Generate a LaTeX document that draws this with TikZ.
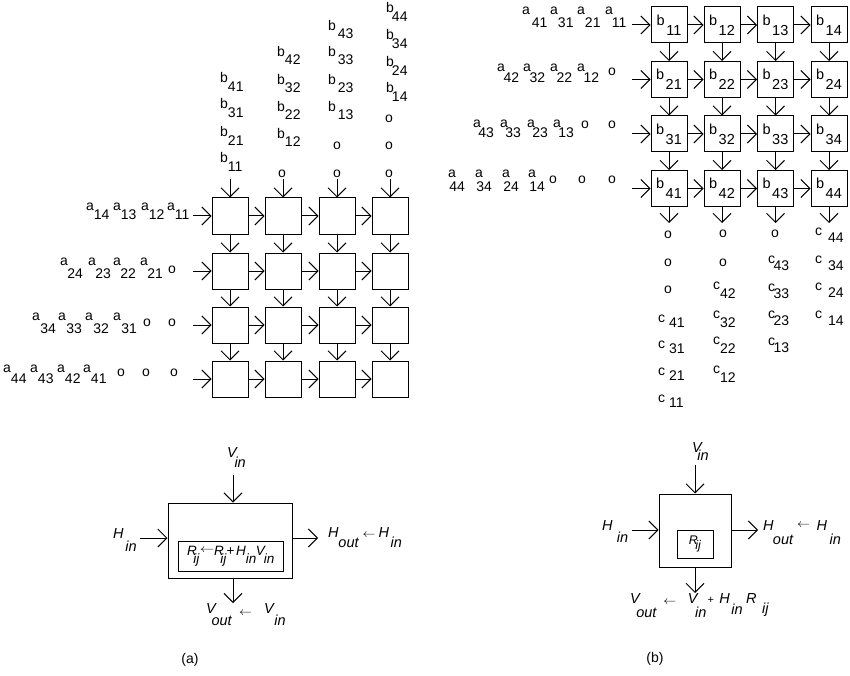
\documentclass[tikz,border=0pt]{standalone}
\usepackage{fontspec}
\setmainfont{Liberation Sans}
\usetikzlibrary{arrows.meta}
\newcommand\RS[4]{\raisebox{#3pt}{#1}\hspace{#4pt}#2}
\newcommand\IS[4]{\textit{#1}\hspace{#3pt}\raisebox{-#4pt}{\textit{#2}}}
\newcommand\LA[1]{\raisebox{#1pt}{\scalebox{0.9}[0.8]{$\leftarrow$}}}
\tikzset{
  lbl/.style={anchor=base west, inner sep=0pt, outer sep=0pt, font=\fontsize{14}{16}\selectfont},
  ilbl/.style={anchor=base west, inner sep=0pt, outer sep=0pt, font=\fontsize{14.5}{16}\selectfont},
  cell/.style={draw, line width=1pt, minimum size=36pt, inner sep=0pt, font=\fontsize{14.5}{16}\selectfont},
  pe/.style={draw, line width=1pt, inner sep=0pt},
  dot/.style={inner sep=0pt, font=\fontsize{14}{16}\selectfont},
  arr/.style={line width=1pt, -{Straight Barb[length=9pt,width=18pt]}},
  captxt/.style={inner sep=0pt, font=\fontsize{14}{16}\selectfont},
}
\begin{document}
\begin{tikzpicture}[x=1pt,y=-1pt]
\useasboundingbox (0,0) rectangle (850,676);
% ---------------- left array (a)
\foreach \c/\x in {1/230,2/283,3/337,4/390}{
  \foreach \r/\y in {1/216,2/271,3/325,4/379}{
    \node[cell] (A\r\c) at (\x,\y) {};
  }
  \coordinate (At\c) at (\x,179);
  \draw[arr] (At\c) -- (A1\c.north);
}
\foreach \r/\y in {1/216,2/271,3/325,4/379}{
  \coordinate (Ai\r) at (193,\y);
  \draw[arr] (Ai\r) -- (A\r1.west);
  \draw[arr] (A\r1.east) -- (A\r2.west);
  \draw[arr] (A\r2.east) -- (A\r3.west);
  \draw[arr] (A\r3.east) -- (A\r4.west);
}
\foreach \c in {1,2,3,4}{
  \draw[arr] (A1\c.south) -- (A2\c.north);
  \draw[arr] (A2\c.south) -- (A3\c.north);
  \draw[arr] (A3\c.south) -- (A4\c.north);
}
% a inputs (a)
\foreach \x/\s in {86/14,113/13,141/12,167/11}
  \node[lbl] (la\s) at (\x,219) {\RS{a}{\s}{9}{0}};
\foreach \x/\s in {60/24,88/23,113/22,140/21}
  \node[lbl] (la\s) at (\x,278) {\RS{a}{\s}{13}{-0.5}};
\foreach \x/\s in {32/34,58/33,85/32,113/31}
  \node[lbl] (la\s) at (\x,333) {\RS{a}{\s}{13}{0.5}};
\foreach \x/\s in {3/44,30/43,57/42,83/41}
  \node[lbl] (la\s) at (\x,383) {\RS{a}{\s}{11}{0.2}};
\foreach \x/\y [count=\i] in {172/270,147/323,172/323,121/373,146/373,174/373}
  \node[dot] (lo\i) at (\x,\y) {o};
% b inputs (a)
\foreach \x/\y/\s/\r/\g in {220/92/41/9/0.2,220/118/31/9/0.2,220/146/21/9/0.2,220/172/11/9/0.2,
  277/65/42/8.5/0.2,277/93/32/8.5/0.2,277/120/22/8.5/0.2,277/147/12/8.5/0.2,
  328/39/43/8/2,328/65/33/8/2,328/93/23/8/2,328/120/13/8/2,
  386/22/44/9/-1.8,386/49/34/9/-1.8,386/76/24/9/-1.8,386/102/14/9/-1.8}
  \node[lbl] (lb\s) at (\x,\y) {\RS{b}{\s}{\r}{\g}};
\foreach \x/\y [count=\i] in {282/174,337/146,337/174,389/119,389/146,389/174}
  \node[dot] (lbo\i) at (\x,\y) {o};
% ---------------- right array (b)
\foreach \c/\x in {1/669,2/722,3/775.5,4/829}{
  \foreach \r/\y in {1/25,2/79.5,3/134,4/188.5}{
    \node[cell] (B\r\c) at (\x,\y) {\RS{b}{\r\c}{10}{1.5}};
  }
  \coordinate (Bo\c) at (\x,223);
  \draw[arr] (B4\c.south) -- (Bo\c);
}
\foreach \r/\y in {1/25,2/79.5,3/134,4/188.5}{
  \coordinate (Bi\r) at (632,\y);
  \draw[arr] (Bi\r) -- (B\r1.west);
  \draw[arr] (B\r1.east) -- (B\r2.west);
  \draw[arr] (B\r2.east) -- (B\r3.west);
  \draw[arr] (B\r3.east) -- (B\r4.west);
}
\foreach \c in {1,2,3,4}{
  \draw[arr] (B1\c.south) -- (B2\c.north);
  \draw[arr] (B2\c.south) -- (B3\c.north);
  \draw[arr] (B3\c.south) -- (B4\c.north);
}
% a inputs (b)
\foreach \x/\s/\g in {522/41/2,550/31/0.2,577/21/0.2,605/11/-0.8}
  \node[lbl] (ra\s) at (\x,28) {\RS{a}{\s}{13}{\g}};
\foreach \x/\s in {497/42,523/32,550/22,577/12}
  \node[lbl] (ra\s) at (\x,83) {\RS{a}{\s}{11}{-1.2}};
\foreach \x/\s in {473/43,500/33,527/23,553/13}
  \node[lbl] (ra\s) at (\x,138) {\RS{a}{\s}{10}{-2.5}};
\foreach \x/\s in {448/44,475/34,502/24,528/14}
  \node[lbl] (ra\s) at (\x,192) {\RS{a}{\s}{14}{-6.5}};
\foreach \x/\y [count=\i] in {612/72,585/125,612/125,553/180,582/180,612/180}
  \node[dot] (rao\i) at (\x,\y) {o};
% c outputs (b)
\foreach \x/\y/\s/\r/\g in {658/327/41/5/4,658/353/31/5/4,658/380/21/5/4,658/407/11/5/4,
  713/298/42/8.5/0,713/327/32/8.5/0,713/353/22/8.5/0,713/382/12/8.5/0,
  768/270/43/7/-1.5,768/298/33/7/-1.5,768/325/23/7/-1.5,768/352/13/7/-1.5,
  815/242/44/7/6,815/270/34/7/6,815/297/24/7/6,815/325/14/7/6}
  \node[lbl] (rc\s) at (\x,\y) {\RS{c}{\s}{\r}{\g}};
\foreach \x/\y [count=\i] in {668/235,668/263,668/290,723/234,723/263,775/234}
  \node[dot] (rco\i) at (\x,\y) {o};
% ---------------- cell (a)
\node[pe, minimum width=124pt, minimum height=75pt] (CA) at (230,540.5) {};
\node[pe, minimum width=105pt, minimum height=30pt] (CAi) at (230.5,556) {};
\node[anchor=base west, inner sep=0pt, font=\fontsize{13.5}{15}\selectfont] (CAt0) at (187,555)
  {\IS{R}{ij}{-3.5}{8}\hspace{0pt}\raisebox{2.5pt}{\scalebox{1.0}[0.8]{$\leftarrow$}}\hspace{0pt}\IS{R}{ij}{-3.5}{8}\hspace{0pt}+\hspace{1.5pt}\IS{H}{in}{0}{8}\hspace{-0.5pt}\IS{V}{in}{-2}{8}};
\coordinate (CAt) at (233,475);
\coordinate (CAb) at (233,603);
\coordinate (CAl) at (140,538);
\coordinate (CAr) at (318,538);
\draw[arr] (CAt) -- (CAt |- CA.north);
\draw[arr] (CAb |- CA.south) -- (CAb);
\draw[arr] (CAl) -- (CAl -| CA.west);
\draw[arr] (CAr -| CA.east) -- (CAr);
\node[ilbl] (CAvin) at (227,457) {\IS{V}{in}{-3.3}{10}};
\node[ilbl] (CAhin) at (113,538) {\IS{H}{in}{2}{13}};
\node[ilbl] (CAhout) at (328,537) {\IS{H}{out}{0}{10}\hspace{3.5pt}\LA{0}\hspace{3pt}\IS{H}{in}{1.5}{10}};
\node[ilbl] (CAvout) at (206,613) {\IS{V}{out}{-5.3}{12}\hspace{7pt}\LA{-2}\hspace{12pt}\IS{V}{in}{-0.5}{12}};
\node[captxt] (capa) at (190,660) {(a)};
% ---------------- cell (b)
\node[pe, minimum width=72pt, minimum height=73pt] (CB) at (695,530.5) {};
\node[pe, minimum width=36pt, minimum height=28pt, font=\fontsize{12.5}{14}\selectfont] (CBi) at (695,544) {\IS{R}{ij}{-2.5}{5}};
\coordinate (CBt) at (695,465);
\coordinate (CBb) at (695,593);
\coordinate (CBl) at (632,530);
\coordinate (CBr) at (758,530);
\draw[arr] (CBt) -- (CBt |- CB.north);
\draw[arr] (CBb |- CB.south) -- (CBb);
\draw[arr] (CBl) -- (CBl -| CB.west);
\draw[arr] (CBr -| CB.east) -- (CBr);
\node[ilbl] (CBvin) at (692,452) {\IS{V}{in}{-5.5}{8}};
\node[ilbl] (CBhin) at (602,530) {\IS{H}{in}{4.5}{12}};
\node[ilbl] (CBhout) at (763,530) {\IS{H}{out}{-0.5}{14}\hspace{3.5pt}\LA{3}\hspace{6.5pt}\IS{H}{in}{2.5}{14}};
\node[ilbl] (CBvout) at (630,603) {\IS{V}{out}{-4.5}{14}\hspace{6.5pt}\LA{-1}\hspace{11.5pt}\IS{V}{in}{-3.5}{14}\hspace{1pt}{\fontsize{11}{13}\selectfont+}\hspace{5.5pt}\IS{H}{in}{1.5}{11}\hspace{3.5pt}\IS{R}{ij}{5.5}{10}};
\node[captxt] (capb) at (655,659) {(b)};
\end{tikzpicture}
\end{document}
